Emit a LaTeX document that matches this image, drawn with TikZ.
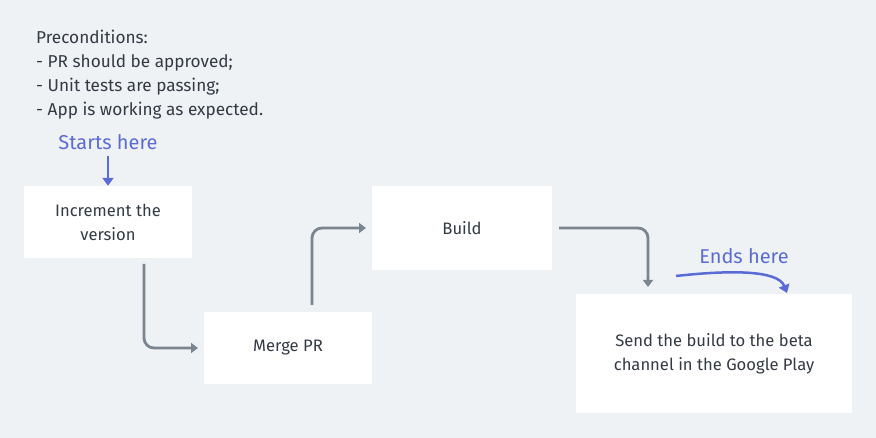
\documentclass[tikz,border=0pt]{standalone}
\usepackage{fontspec}
\setmainfont{Fira Sans}
\usetikzlibrary{arrows.meta}
\definecolor{bg}{HTML}{EFF2F5}
\definecolor{txt}{HTML}{333A44}
\definecolor{conn}{HTML}{7B8590}
\definecolor{note}{HTML}{5A6BD5}
\tikzset{
  x=1pt,y=-1pt,
  stepbox/.style={fill=white,draw=none,minimum width=#1,align=center,text=txt,font=\fontsize{16.6}{24}\selectfont,inner sep=0pt},
  flow/.style={draw=conn,line width=2.8pt,-{Triangle[length=7pt,width=10pt]},rounded corners=10pt},
  mark blue/.style={draw=note,line width=2.5pt,-{Triangle[length=8pt,width=11pt]}},
  notetext/.style={text=note,font=\fontsize{20}{22}\selectfont,inner sep=0pt}
}
\begin{document}
\begin{tikzpicture}
\fill[bg] (0,0) rectangle (876,438);
\useasboundingbox (0,0) rectangle (876,438);
\node[anchor=north west,align=left,text=txt,font=\fontsize{17.2}{24}\selectfont,inner sep=0pt] (pre) at (36,30) {Preconditions:\\- PR should be approved;\\- Unit tests are passing;\\- App is working as expected.};
\node[stepbox=168pt,minimum height=72pt] (inc) at (108,222) {Increment the\\version};
\node[stepbox=168pt,minimum height=72pt] (merge) at (288,348) {Merge PR};
\node[stepbox=180pt,minimum height=84pt] (build) at (462,228) {Build};
\node[stepbox=276pt,minimum height=119pt] (send) at (714,353.5) {Send the build to the beta\\channel in the Google Play};
\node[notetext] (starts) at (108,142) {Starts here};
\node[notetext] (ends) at (744,256) {Ends here};
\coordinate (s1) at (108,156);
\draw[mark blue] (s1) -- (inc.north);
\coordinate (e1) at (676,276);
\coordinate (e2) at (787,293);
\draw[mark blue] (e1) .. controls (730,270) and (778,270) .. (e2);
\coordinate (a1) at (144,264);
\coordinate (a2) at (198,348);
\draw[flow] (a1) |- (a2);
\coordinate (b1) at (312,305);
\coordinate (b2) at (366,228);
\draw[flow] (b1) |- (b2);
\coordinate (c1) at (559,228);
\coordinate (c2) at (648,287);
\draw[flow] (c1) -| (c2);
\end{tikzpicture}
\end{document}
